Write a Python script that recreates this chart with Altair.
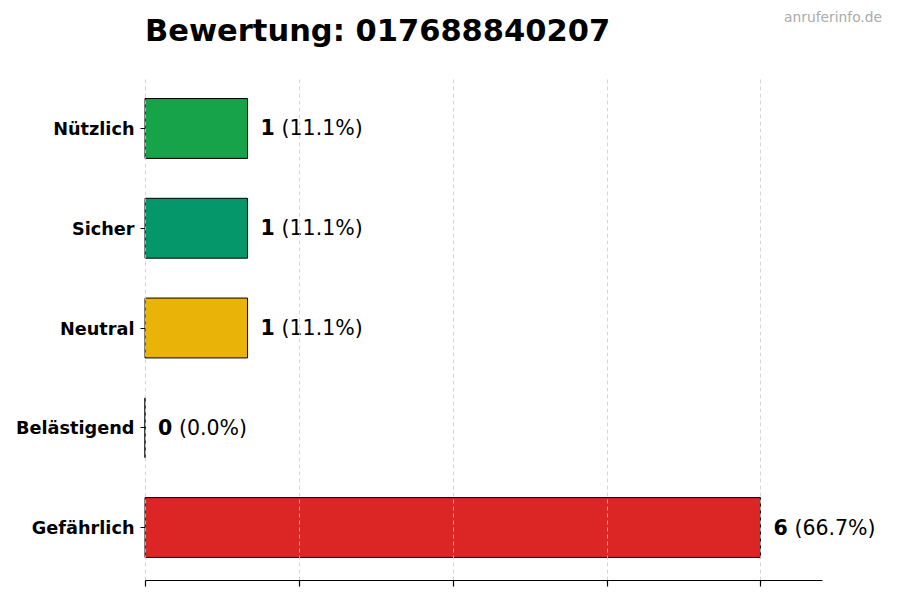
import altair as alt
import pandas as pd

categories = ["Nützlich", "Sicher", "Neutral", "Belästigend", "Gefährlich"]
counts = [1, 1, 1, 0, 6]
percents = ["(11.1%)", "(11.1%)", "(11.1%)", "(0.0%)", "(66.7%)"]
colors = ["#16a34a", "#059669", "#eab308", "#f97316", "#dc2626"]
x_ticks = [0, 1.5, 3, 4.5, 6]
title_text = "Bewertung: 017688840207"
watermark = "anruferinfo.de"

df = pd.DataFrame({"cat": categories, "count": counts, "pct": percents, "color": colors})

FONT = "DejaVu Sans"

y_enc = alt.Y(
    "cat:N",
    sort=categories,
    title=None,
    scale=alt.Scale(paddingInner=0.4, paddingOuter=0.226),
    axis=alt.Axis(
        domain=False, ticks=True, tickSize=5, tickColor="black", grid=False,
        labelFont=FONT, labelFontSize=17.7, labelFontWeight="bold", labelColor="black",
        labelPadding=6, labelOffset=1.5, minExtent=137, maxExtent=137, labelLimit=200,
    ),
)
x_enc = alt.X(
    "count:Q",
    title=None,
    scale=alt.Scale(domain=[0, 6.6], nice=False, zero=True),
    axis=alt.Axis(
        values=x_ticks, labels=False, domain=True, domainColor="black", domainWidth=1.2,
        ticks=True, tickSize=6, tickColor="black", tickWidth=1.2,
        grid=True, gridColor="#cccccc", gridDash=[4, 3], gridWidth=0.8, zindex=1,
    ),
)

bars = alt.Chart(df).mark_bar(stroke="black", strokeWidth=1).encode(
    x=x_enc,
    y=y_enc,
    color=alt.Color("color:N", scale=None, legend=None),
)

count_text = alt.Chart(df).mark_text(
    align="left", baseline="middle", dx=13, dy=1, font=FONT, fontSize=20.5, fontWeight="bold", color="black"
).encode(x="count:Q", y=alt.Y("cat:N", sort=categories), text="count:Q")

pct_text = alt.Chart(df).mark_text(
    align="left", baseline="middle", dx=34, dy=1, font=FONT, fontSize=20.5, color="black"
).encode(x="count:Q", y=alt.Y("cat:N", sort=categories), text="pct:N")

title_mark = alt.Chart(pd.DataFrame({"t": [title_text]})).mark_text(
    align="left", baseline="alphabetic", font=FONT, fontSize=30.5, fontWeight="bold", color="black"
).encode(x=alt.value(0), y=alt.value(-35), text="t:N")

wm = alt.Chart(pd.DataFrame({"t": [watermark]})).mark_text(
    align="right", baseline="alphabetic", font=FONT, fontSize=13.8, color="#aaaaaa"
).encode(x=alt.value(737), y=alt.value(-54), text="t:N")

chart = alt.layer(bars, count_text, pct_text, title_mark, wm).properties(
    width=677,
    height=504,
    background="white",
    autosize=alt.AutoSizeParams(type="none"),
    padding={"left": 137, "top": 68, "right": 70, "bottom": 20},
).configure_view(strokeWidth=0, stroke="transparent")

chart.save("out.html", embed_options={"renderer": "svg", "actions": False})
